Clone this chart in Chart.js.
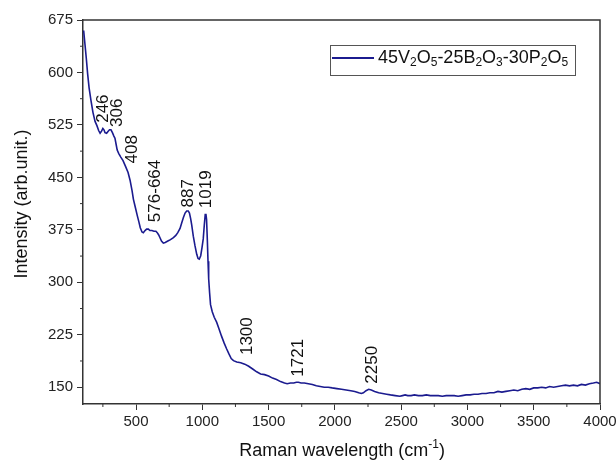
<!DOCTYPE html>
<html>
<head>
<meta charset="utf-8">
<script src="https://cdn.jsdelivr.net/npm/chart.js@4.4.1/dist/chart.umd.min.js"></script>
<style>
  html, body { margin: 0; padding: 0; background: #fff; }
  #wrap { width: 616px; height: 460px; }
</style>
</head>
<body>
<div id="wrap"><canvas id="raman"></canvas></div>
<script>
// Raman spectrum (wavenumber, intensity)
const ramanShift = [105, 115, 125, 135, 146, 160, 175, 191, 205, 218, 229, 240, 250, 258, 266, 278, 290, 300, 311, 322, 333, 341, 350, 358, 370, 385, 402, 420, 440, 455, 470, 480, 495, 510, 522, 532, 545, 555, 568, 580, 593, 605, 620, 635, 650, 660, 670, 680, 692, 706, 720, 740, 760, 782, 800, 815, 832, 845, 858, 870, 882, 894, 903, 912, 920, 932, 945, 958, 968, 977, 988, 998, 1007, 1015, 1022, 1027, 1032, 1038, 1043, 1048, 1055, 1062, 1075, 1090, 1108, 1125, 1145, 1165, 1183, 1200, 1218, 1235, 1260, 1290, 1320, 1350, 1380, 1410, 1440, 1470, 1500, 1530, 1560, 1590, 1620, 1640, 1665, 1690, 1710, 1725, 1745, 1770, 1800, 1830, 1860, 1890, 1920, 1950, 1980, 2015, 2050, 2085, 2120, 2150, 2180, 2200, 2215, 2235, 2255, 2275, 2300, 2330, 2360, 2390, 2420, 2455, 2490, 2510, 2530, 2550, 2575, 2600, 2630, 2660, 2690, 2720, 2750, 2780, 2810, 2840, 2870, 2900, 2930, 2960, 2990, 3020, 3050, 3080, 3110, 3140, 3170, 3200, 3230, 3260, 3290, 3320, 3350, 3380, 3410, 3440, 3470, 3500, 3530, 3560, 3590, 3620, 3650, 3680, 3710, 3740, 3770, 3800, 3830, 3860, 3890, 3920, 3950, 3975, 4000];
const intensity = [660, 640, 620, 598, 578, 560, 543, 530, 524, 517, 513, 516, 520, 518, 514, 513, 516, 518, 518, 514, 509, 506, 497, 489, 484, 479, 474, 466, 457, 446, 431, 419, 407, 395, 386, 378, 372, 371, 374, 376, 376, 374, 374, 373, 373, 371, 368, 364, 359, 356, 357, 359, 361, 364, 367, 371, 377, 385, 393, 399, 402, 402, 399, 391, 382, 366, 352, 340, 334, 333, 338, 350, 362, 382, 397, 398, 390, 360, 330, 305, 285, 268, 258, 250, 243, 234, 223, 213, 205, 198, 191, 188, 186, 185, 183, 180, 176, 172, 169, 168, 166, 163, 161, 158, 156, 155, 156, 156, 157, 157, 156, 156, 155, 154, 152, 151, 150, 150, 149, 148, 147, 146, 145, 144, 142, 141, 142, 145, 147, 146, 144, 142, 141, 140, 139, 138, 137, 138, 139, 138, 138, 139, 138, 138, 139, 138, 138, 138, 137, 138, 138, 138, 137, 138, 139, 139, 140, 140, 141, 141, 142, 142, 144, 143, 144, 145, 146, 145, 147, 148, 147, 149, 149, 150, 149, 151, 150, 151, 152, 153, 152, 153, 152, 154, 153, 155, 156, 157, 155];

const seriesLabel = "45V2O5-25B2O3-30P2O5";
const xTicks = [500, 1000, 1500, 2000, 2500, 3000, 3500, 4000];
const yTicks = [150, 225, 300, 375, 450, 525, 600, 675];

// peak annotations (text, where the rotated text starts)
const peakText = ["246", "306", "408", "576-664", "887", "1019", "1300", "1721", "2250"];
const peakX = [252, 360, 470, 643, 896, 1032, 1341, 1725, 2283];
const peakY = [528, 522, 470, 386, 407, 406, 196, 165, 155];

const FONT = "'Liberation Sans', Arial, sans-serif";
const AXIS = "#333333";
const LINE = "#1b1b8f";

// draws text where digits right after a letter become subscripts
function chemText(ctx, text, x, y, size) {
    let cx = x;
    let prevLetter = false;
    for (const ch of text) {
        const isDigit = /[0-9]/.test(ch);
        if (isDigit && prevLetter) {
            ctx.font = `${Math.round(size * 0.65)}px ${FONT}`;
            ctx.fillText(ch, cx, y + size * 0.28);
            cx += ctx.measureText(ch).width;
            prevLetter = false;
        } else {
            ctx.font = `${size}px ${FONT}`;
            ctx.fillText(ch, cx, y);
            cx += ctx.measureText(ch).width;
            prevLetter = /[A-Za-z]/.test(ch);
        }
    }
    return cx;
}

const decorations = {
    id: "decorations",
    afterDraw(chart) {
        const { ctx, chartArea: a, scales: { x, y } } = chart;
        ctx.save();

        // top and right frame
        ctx.strokeStyle = AXIS;
        ctx.lineWidth = 1.5;
        ctx.beginPath();
        ctx.moveTo(a.left, a.top);
        ctx.lineTo(a.right, a.top);
        ctx.lineTo(a.right, a.bottom);
        ctx.stroke();

        // minor ticks
        ctx.lineWidth = 1;
        ctx.beginPath();
        for (let v = 250; v <= 4000; v += 500) {
            const px = x.getPixelForValue(v);
            ctx.moveTo(px, a.bottom);
            ctx.lineTo(px, a.bottom + 3);
        }
        for (let v = 187.5; v < 675; v += 75) {
            const py = y.getPixelForValue(v);
            ctx.moveTo(a.left, py);
            ctx.lineTo(a.left - 3, py);
        }
        ctx.stroke();

        // peak labels
        ctx.fillStyle = "#111";
        ctx.font = `17px ${FONT}`;
        ctx.textBaseline = "middle";
        ctx.textAlign = "left";
        peakText.forEach((t, i) => {
            ctx.save();
            ctx.translate(x.getPixelForValue(peakX[i]), y.getPixelForValue(peakY[i]));
            ctx.rotate(-Math.PI / 2);
            ctx.fillText(t, 0, 0);
            ctx.restore();
        });

        // axis titles
        ctx.font = `18px ${FONT}`;
        ctx.textAlign = "center";
        ctx.save();
        ctx.translate(22, 204);
        ctx.rotate(-Math.PI / 2);
        ctx.fillText("Intensity (arb.unit.)", 0, 0);
        ctx.restore();

        const main = "Raman wavelength (cm";
        ctx.font = `18px ${FONT}`;
        const w1 = ctx.measureText(main).width;
        ctx.font = `12px ${FONT}`;
        const w2 = ctx.measureText("-1").width;
        ctx.font = `18px ${FONT}`;
        const w3 = ctx.measureText(")").width;
        let sx = 342 - (w1 + w2 + w3) / 2;
        ctx.textAlign = "left";
        ctx.fillText(main, sx, 451);
        sx += w1;
        ctx.font = `12px ${FONT}`;
        ctx.fillText("-1", sx, 445);
        sx += w2;
        ctx.font = `18px ${FONT}`;
        ctx.fillText(")", sx, 451);

        // legend
        ctx.strokeStyle = "#555";
        ctx.lineWidth = 1;
        ctx.strokeRect(330.5, 45.5, 245, 30);
        ctx.strokeStyle = LINE;
        ctx.lineWidth = 1.8;
        ctx.beginPath();
        ctx.moveTo(332, 58);
        ctx.lineTo(374, 58);
        ctx.stroke();
        ctx.fillStyle = "#111";
        ctx.textBaseline = "middle";
        chemText(ctx, seriesLabel, 378, 58, 18);

        ctx.restore();
    }
};

new Chart(document.getElementById("raman"), {
    type: "line",
    data: {
        labels: ramanShift,
        datasets: [{
            label: seriesLabel,
            data: ramanShift.map((v, i) => ({ x: v, y: intensity[i] })),
            borderColor: LINE,
            borderWidth: 1.6,
            pointRadius: 0,
            tension: 0,
            fill: false,
        }]
    },
    options: {
        responsive: true,
        maintainAspectRatio: false,
        animation: false,
        layout: { padding: { left: 0, top: 20, right: 0, bottom: 0 } },
        plugins: {
            legend: { display: false },
            tooltip: { enabled: false },
        },
        scales: {
            x: {
                type: "linear",
                min: 100,
                max: 4000,
                afterBuildTicks: (s) => { s.ticks = xTicks.map(v => ({ value: v })); },
                afterFit: (s) => { s.height = 56; s.paddingRight = 16; },
                grid: { drawOnChartArea: false, drawTicks: true, tickLength: 6, color: AXIS },
                border: { display: true, color: AXIS, width: 1.5 },
                ticks: {
                    color: "#222", padding: 3, maxRotation: 0,
                    font: { family: FONT, size: 15 },
                    callback: (v) => String(v),
                },
            },
            y: {
                min: 126,
                max: 675,
                afterBuildTicks: (s) => { s.ticks = yTicks.map(v => ({ value: v })); },
                afterFit: (s) => { s.width = 83; },
                grid: { drawOnChartArea: false, drawTicks: true, tickLength: 6, color: AXIS },
                border: { display: true, color: AXIS, width: 1.5 },
                ticks: { color: "#222", padding: 4, font: { family: FONT, size: 15 } },
            }
        }
    },
    plugins: [decorations]
});
</script>
</body>
</html>
